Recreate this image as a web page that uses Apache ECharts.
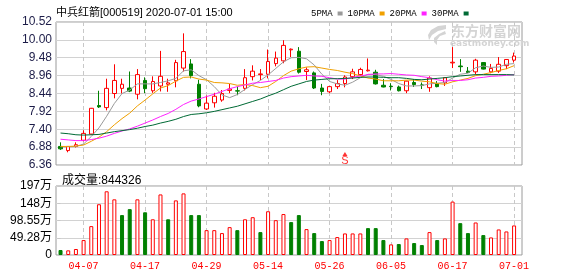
<!DOCTYPE html>
<html><head><meta charset="utf-8">
<script src="https://cdn.jsdelivr.net/npm/echarts@6/dist/echarts.min.js"></script>
<style>html,body{margin:0;padding:0;background:#fff}#c{width:578px;height:276px}</style>
</head><body><div id="c"></div>
<script>
const titleText = '中兵红箭[000519] 2020-07-01 15:00';
const volumeTitle = '成交量';
const dates = ['04-01','04-02','04-03','04-07','04-08','04-09','04-10','04-13','04-14','04-15','04-16','04-17','04-20','04-21','04-22','04-23','04-24','04-27','04-28','04-29','04-30',
'05-06','05-07','05-08','05-11','05-12','05-13','05-14','05-15','05-18','05-19','05-20','05-21','05-22','05-25','05-26','05-27','05-28','05-29',
'06-01','06-02','06-03','06-04','06-05','06-08','06-09','06-10','06-11','06-12','06-15','06-16','06-17','06-18','06-19','06-22','06-23','06-24','06-29','06-30','07-01'];
const opens  = [6.90,6.78,6.90,7.08,7.26,8.09,8.03,8.44,8.59,8.60,8.42,8.82,8.52,8.66,8.71,8.81,9.18,9.30,8.71,7.99,8.17,8.25,8.53,8.52,8.59,8.93,8.99,9.00,9.31,9.39,9.71,9.67,9.08,9.04,8.60,8.49,8.64,8.73,8.93,8.99,9.10,9.06,8.68,8.65,8.63,8.52,8.76,8.69,8.61,8.73,8.75,9.33,9.24,9.09,9.07,9.34,9.07,9.09,9.25,9.41];
const closes = [6.83,6.90,6.95,7.28,8.01,8.05,8.59,8.82,8.71,8.51,8.99,8.58,8.79,8.94,8.75,9.34,9.66,8.96,8.08,8.16,8.36,8.44,8.57,8.51,8.90,9.09,9.01,9.37,9.47,9.84,9.73,9.06,9.13,8.60,8.50,8.64,8.73,8.92,9.07,9.14,9.12,8.72,8.63,8.64,8.52,8.80,8.70,8.68,8.89,8.64,8.90,9.35,9.22,9.05,9.41,9.15,9.17,9.29,9.43,9.53];
const lows   = [6.80,6.73,6.87,7.05,7.24,8.02,7.95,8.30,8.44,8.48,8.27,8.45,8.46,8.50,8.49,8.62,9.08,8.88,8.04,7.96,8.03,8.20,8.45,8.39,8.53,8.82,8.83,8.88,9.23,9.32,9.50,9.02,8.83,8.57,8.39,8.45,8.57,8.62,8.86,8.96,9.08,8.70,8.62,8.53,8.50,8.45,8.63,8.57,8.49,8.62,8.66,9.18,9.07,9.04,8.99,9.14,9.03,9.04,9.15,9.34];
const highs  = [7.02,6.91,7.02,7.37,8.02,8.52,8.87,9.29,8.87,9.08,9.15,8.91,8.94,9.68,8.87,9.42,10.19,9.44,8.84,8.38,8.46,8.54,8.72,8.64,9.15,9.26,9.15,9.72,9.66,9.99,9.75,9.79,9.20,9.08,8.72,8.65,8.83,8.97,9.16,9.19,9.46,9.13,8.86,8.74,8.67,8.81,8.86,8.76,8.94,8.80,8.92,9.79,9.44,9.21,9.45,9.35,9.30,9.50,9.44,9.63];
const volumes = [142000,133000,171000,427000,825000,1450000,1820000,1590000,1140000,1310000,1590000,1220000,1020000,1730000,1020000,1560000,1760000,1140000,1140000,710000,
710000,626000,796000,710000,1020000,1080000,654000,1250000,995000,1170000,940000,1140000,740000,626000,398000,427000,512000,616000,616000,616000,
768000,768000,427000,303000,313000,474000,341000,284000,654000,427000,474000,1526000,910000,626000,929000,569000,502000,730000,673000,844326];
const ma5  = [6.89,6.89,6.90,6.97,7.19,7.44,7.78,8.15,8.44,8.54,8.72,8.72,8.72,8.76,8.81,8.88,9.10,9.13,8.96,8.84,8.64,8.40,8.32,8.41,8.56,8.70,8.82,8.98,9.17,9.36,9.48,9.49,9.45,9.27,9.00,8.79,8.72,8.68,8.77,8.90,9.00,8.99,8.94,8.85,8.73,8.66,8.66,8.67,8.72,8.74,8.76,8.89,9.00,9.03,9.19,9.24,9.20,9.21,9.29,9.31];
const ma10 = [6.90,6.90,6.91,6.94,7.05,7.17,7.33,7.53,7.71,7.87,8.08,8.25,8.43,8.60,8.67,8.80,8.91,8.92,8.86,8.83,8.76,8.75,8.73,8.68,8.70,8.67,8.61,8.65,8.79,8.96,9.09,9.16,9.21,9.22,9.18,9.14,9.11,9.06,9.02,8.95,8.89,8.86,8.81,8.81,8.81,8.83,8.83,8.80,8.78,8.73,8.71,8.78,8.83,8.88,8.96,9.00,9.05,9.11,9.16,9.25];
const ma20 = [7.11,7.09,7.07,7.07,7.10,7.14,7.20,7.28,7.35,7.41,7.49,7.58,7.67,7.77,7.86,7.98,8.12,8.22,8.28,8.35,8.42,8.50,8.58,8.64,8.69,8.74,8.76,8.79,8.82,8.89,8.93,8.95,8.97,8.95,8.94,8.90,8.86,8.86,8.91,8.95,8.99,9.01,9.01,9.02,9.00,8.98,8.97,8.93,8.90,8.84,8.80,8.82,8.82,8.84,8.89,8.91,8.94,8.95,8.97,8.99];
const ma30 = [7.29,7.27,7.24,7.23,7.24,7.25,7.29,7.33,7.36,7.39,7.43,7.48,7.52,7.58,7.63,7.69,7.77,7.83,7.85,7.88,7.92,7.97,8.02,8.07,8.14,8.21,8.28,8.37,8.45,8.55,8.65,8.72,8.79,8.83,8.85,8.87,8.87,8.88,8.89,8.91,8.92,8.92,8.91,8.90,8.90,8.88,8.85,8.84,8.86,8.88,8.90,8.93,8.95,8.97,8.99,8.99,8.99,8.99,8.99,8.98];
const maNames = ['5PMA','10PMA','20PMA','30PMA'];
const priceTicks = [6.36,6.88,7.40,7.92,8.44,8.96,9.48,10.00,10.52];
const volTicks = [0,492750,985500,1478250,1971000];
const volTickLabels = ['0','49.28万','98.55万','148万','197万'];
const dateTickLabels = ['04-07','04-17','04-29','05-14','05-26','06-05','06-17','07-01'];
const signals = [{date:'05-28', text:'S'}];

const UP = '#ff0000', DOWN = '#008000';
const maColors = ['#9a9a9a','#f0a000','#ff22ff','#006a35'];
const dateTickIdx = dateTickLabels.map(d => dates.indexOf(d));
const sansCJK = '"Liberation Sans","Noto Sans CJK SC",sans-serif';

const candleData = dates.map((d,i) => [i, opens[i], closes[i], lows[i], highs[i]]);
const volData = volumes.map((v,i) => {
  const rising = i === 0 ? closes[i] >= opens[i] : closes[i] >= closes[i-1];
  return {value:[i,v], itemStyle: rising ? {color:'#ffffff', borderColor:UP, borderWidth:1} : {color:DOWN, borderColor:DOWN, borderWidth:1}};
});
const maSeries = [ma5,ma10,ma20,ma30].map((arr,k) => ({
  name: maNames[k], type:'line', xAxisIndex:0, yAxisIndex:0,
  data: arr.map((v,i)=>[i,v]), symbol:'none', showSymbol:false, z:4,
  lineStyle:{width:1, color:maColors[k]}, itemStyle:{color:maColors[k]}
}));

const xCommon = {
  type:'value', min:-0.59, max:60.03,
  axisLine:{show:false},
  axisTick:{show:false, customValues: dateTickIdx},
  splitLine:{show:true, lineStyle:{color:'#c8c8c8', type:[4,3], width:1}}
};

const chart = echarts.init(document.getElementById('c'), null, {renderer:'canvas'});
chart.setOption({
  animation:false,
  backgroundColor:'#ffffff',
  title:[
    {text:titleText, left:51, top:2, textStyle:{fontSize:11, fontWeight:'normal', color:'#000', fontFamily:sansCJK}},
    {text:volumeTitle + ':' + volumes[volumes.length-1], left:57, top:170, textStyle:{fontSize:12, fontWeight:'normal', color:'#000', fontFamily:sansCJK}}
  ],
  legend:{
    data:maNames, left:306, top:4, align:'right', icon:'rect', itemWidth:5, itemHeight:4, itemGap:5,
    textStyle:{fontSize:9, color:'#000', fontFamily:'"Liberation Mono",monospace'}, selectedMode:false
  },
  graphic:[
    {type:'text', left:451, top:24, z:0, silent:true, style:{text:'东方财富网', fill:'#d4d4d4', font:'bold 14px "Noto Sans CJK SC"'}},
    {type:'text', left:450, top:39, z:0, silent:true, style:{text:'eastmoney.com', fill:'#d4d4d4', font:'bold 9px "DejaVu Sans"'}},
    {type:'polygon', z:0, silent:true, shape:{points:[[446,25],[438,26],[431,30],[428,35],[429,40],[432,35],[438,31],[446,29]]}, style:{fill:'#d4d4d4'}},
    {type:'polygon', z:0, silent:true, shape:{points:[[445,31],[439,34],[434,38],[434,42],[437,45],[437,40],[440,36],[446,34]]}, style:{fill:'#d4d4d4'}}
  ],
  grid:[
    {left:56, top:22, width:466, height:143, show:true, borderColor:'#9a9a9a', borderWidth:1, backgroundColor:'transparent'},
    {left:56, top:186, width:466, height:69, show:true, borderColor:'#9a9a9a', borderWidth:1, backgroundColor:'transparent'}
  ],
  xAxis:[
    Object.assign({gridIndex:0, axisLabel:{show:false, customValues:dateTickIdx}}, xCommon),
    Object.assign({gridIndex:1, axisLabel:{show:true, customValues:dateTickIdx, color:UP, fontSize:10, margin:6,
      fontFamily:'"Liberation Mono",monospace', formatter:v => dates[Math.round(v)] || ''}}, xCommon)
  ],
  yAxis:[
    {gridIndex:0, type:'value', min:priceTicks[0], max:priceTicks[priceTicks.length-1],
     axisLine:{show:false}, axisTick:{show:false, customValues:priceTicks},
     axisLabel:{customValues:priceTicks, formatter:v => v.toFixed(2), color:'#1c1c48', fontSize:12, margin:4, fontFamily:'"Liberation Sans",sans-serif'},
     splitLine:{show:true, lineStyle:{color:'#d2d2d2', width:1}}},
    {gridIndex:1, type:'value', min:volTicks[0], max:volTicks[volTicks.length-1],
     axisLine:{show:false}, axisTick:{show:true, length:3, customValues:volTicks, lineStyle:{color:'#c8c8c8'}},
     axisLabel:{customValues:volTicks, formatter:v => volTickLabels[volTicks.indexOf(v)] ?? '', color:'#000', fontSize:12, margin:4, fontFamily:sansCJK},
     splitLine:{show:true, lineStyle:{color:'#d2d2d2', width:1}}}
  ],
  series:[
    {type:'candlestick', name:'K', xAxisIndex:0, yAxisIndex:0, data:candleData, encode:{x:0, y:[1,2,3,4]},
     barWidth:4, z:3,
     itemStyle:{color:'#ffffff', color0:DOWN, borderColor:UP, borderColor0:DOWN, borderWidth:1}},
    ...maSeries,
    {type:'scatter', name:'signal', xAxisIndex:0, yAxisIndex:0, z:5,
     data: signals.map(s => [dates.indexOf(s.date), priceTicks[0]]),
     symbol:'triangle', symbolSize:[5,4], symbolOffset:[0,-11], itemStyle:{color:UP},
     label:{show:true, position:'inside', offset:[0,7], formatter:() => signals[0].text, color:UP, fontSize:11, fontFamily:'"Liberation Sans",sans-serif'}},
    {type:'bar', name:'VOL', xAxisIndex:1, yAxisIndex:1, data:volData, barWidth:4}
  ]
});
</script></body></html>
